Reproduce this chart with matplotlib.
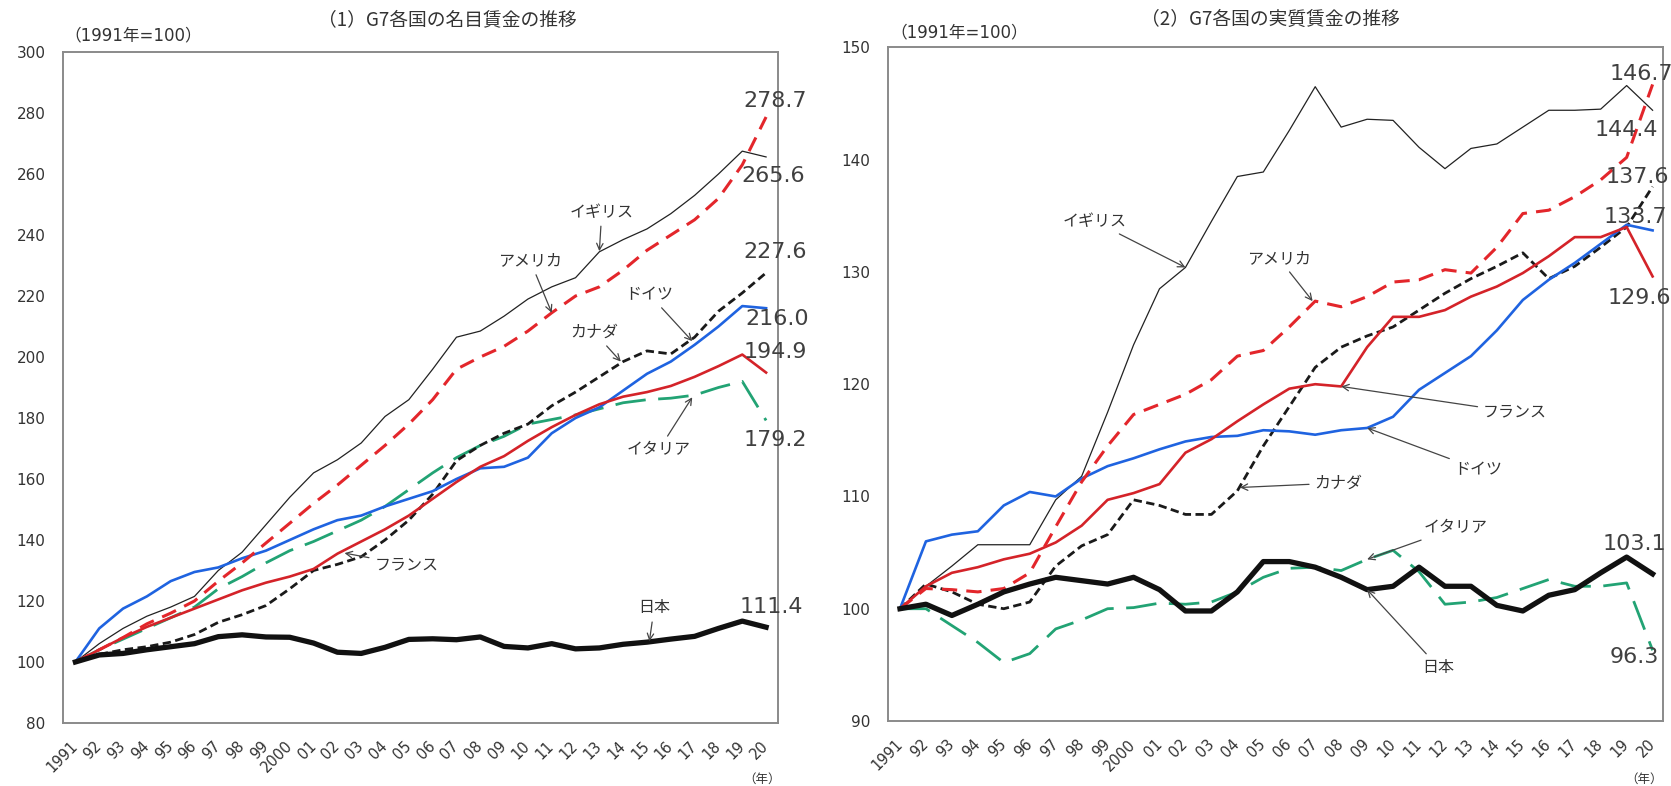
import numpy as np
import matplotlib
matplotlib.use('Agg')
import matplotlib.pyplot as plt

plt.rcParams['font.family'] = ['Noto Sans CJK JP', 'DejaVu Sans']
num_font = ['DejaVu Sans', 'Noto Sans CJK JP']

# data ################################################################
years = list(range(1991, 2021))
year_labels = ['1991'] + ['%02d' % (y % 100) for y in range(1992, 2000)] + ['2000'] + \
              ['%02d' % (y % 100) for y in range(2001, 2021)]

# (1) nominal wages, 1991 = 100
uk_nom = [100, 106, 111, 115, 118, 121.5, 130, 136, 145, 154, 162, 166.3, 171.8, 180.5, 186,
          196, 206.5, 208.5, 213.4, 219, 223, 226, 234.5, 238.5, 242, 247, 253, 260, 267.5, 265.6]
us_nom = [100, 104, 108, 112.5, 116, 120, 126.5, 132.5, 139, 145.5, 152, 158, 164.5, 171, 178,
          186, 196, 200, 203.5, 208.5, 214.5, 220, 223, 228.5, 235, 240, 245, 252, 263, 278.7]
ca_nom = [100, 102.5, 104, 105, 106.5, 109, 113, 115.5, 118.5, 124, 130, 132, 134.5, 140, 146.5,
          155, 166, 171, 175, 178, 184, 188.5, 193.5, 198.5, 202, 201, 206.5, 215, 221, 227.6]
de_nom = [100, 111, 117.5, 121.5, 126.5, 129.5, 131, 134, 136.5, 140, 143.5, 146.5, 148, 151, 153.5,
          156, 160, 163.5, 164, 167, 175, 180, 183.5, 189, 194.5, 198.5, 204, 210, 216.7, 216.0]
fr_nom = [100, 104, 108, 111.5, 114.5, 117.5, 120.5, 123.5, 126, 128, 130.5, 135.5, 139.5, 143.5, 148,
          153.5, 159, 164, 167.5, 172.5, 177, 181, 184.5, 187, 188.5, 190.5, 193.5, 197, 200.8, 194.9]
it_nom = [100, 104, 107.5, 111, 114.5, 118, 124, 128, 132.5, 136.5, 139.5, 143, 146.5, 151, 156.5,
          162, 167, 171, 174, 178, 179.5, 181, 183, 185, 186, 186.5, 187.5, 190, 192, 179.2]
jp_nom = [100, 102.3, 102.8, 104, 105, 106, 108.3, 108.9, 108.2, 108.1, 106.2, 103.2, 102.8, 104.8, 107.4,
          107.6, 107.3, 108.2, 105.1, 104.6, 106, 104.3, 104.6, 105.8, 106.5, 107.5, 108.4, 111.0, 113.4, 111.4]

# (2) real wages, 1991 = 100
uk_real = [100, 102, 103.8, 105.7, 105.7, 105.7, 109.7, 111.8, 117.5, 123.5, 128.5, 130.4, 134.5, 138.5, 138.9,
           142.6, 146.5, 142.9, 143.6, 143.5, 141.1, 139.2, 141, 141.4, 142.9, 144.4, 144.4, 144.5, 146.6, 144.4]
us_real = [100, 101.8, 101.7, 101.5, 101.8, 103.2, 107.3, 111.3, 114.5, 117.3, 118.2, 119.1, 120.4, 122.5, 123.0,
           125.1, 127.4, 126.9, 127.8, 129.1, 129.3, 130.2, 129.9, 132.2, 135.2, 135.5, 136.7, 138.2, 140.2, 146.7]
ca_real = [100, 102.2, 101.5, 100.4, 100.0, 100.6, 103.8, 105.6, 106.6, 109.7, 109.2, 108.4, 108.4, 110.5, 114.5,
           118, 121.5, 123.3, 124.3, 125.1, 126.6, 128.1, 129.4, 130.5, 131.7, 129.4, 130.5, 132.2, 134.0, 137.6]
de_real = [100, 106, 106.6, 106.9, 109.2, 110.4, 110.0, 111.6, 112.7, 113.4, 114.2, 114.9, 115.3, 115.4, 115.9,
           115.8, 115.5, 115.9, 116.1, 117.1, 119.5, 121.0, 122.5, 124.8, 127.5, 129.3, 130.8, 132.5, 134.2, 133.7]
fr_real = [100, 102.0, 103.2, 103.7, 104.4, 104.9, 105.9, 107.4, 109.7, 110.3, 111.1, 113.9, 115.1, 116.7, 118.2,
           119.6, 120.0, 119.8, 123.3, 126.0, 126.0, 126.6, 127.8, 128.7, 129.9, 131.4, 133.1, 133.1, 134.0, 129.6]
it_real = [100, 100.0, 98.5, 97.0, 95.2, 96.0, 98.2, 99.0, 100.0, 100.1, 100.5, 100.4, 100.6, 101.5, 102.8,
           103.6, 103.7, 103.4, 104.4, 105.2, 103.3, 100.4, 100.6, 101.0, 101.8, 102.6, 102.0, 102.0, 102.3, 96.3]
jp_real = [100, 100.4, 99.4, 100.4, 101.5, 102.2, 102.8, 102.5, 102.2, 102.8, 101.7, 99.8, 99.8, 101.5, 104.2,
           104.2, 103.7, 102.8, 101.7, 102.0, 103.7, 102.0, 102.0, 100.3, 99.8, 101.2, 101.7, 103.2, 104.6, 103.1]

# line styles per country
styles = {
    'uk': dict(color='#222222', lw=0.9),
    'us': dict(color='#e3262b', lw=2.2, dashes=(5, 3)),
    'ca': dict(color='#1a1a1a', lw=2.0, dashes=(3, 1.6)),
    'de': dict(color='#1f63e0', lw=1.9),
    'fr': dict(color='#d42329', lw=1.9),
    'it': dict(color='#22a374', lw=2.0, dashes=(11, 4.5)),
    'jp': dict(color='#111111', lw=3.8),
}

# figure ##############################################################
fig = plt.figure(figsize=(16.71, 7.86), dpi=100)
ax1 = fig.add_axes([0.038, 0.0802, 0.4273, 0.8536])
ax2 = fig.add_axes([0.5316, 0.0827, 0.4636, 0.857])

nominal = {'uk': uk_nom, 'us': us_nom, 'ca': ca_nom, 'de': de_nom,
           'fr': fr_nom, 'it': it_nom, 'jp': jp_nom}
real = {'uk': uk_real, 'us': us_real, 'ca': ca_real, 'de': de_real,
        'fr': fr_real, 'it': it_real, 'jp': jp_real}

for ax, data in [(ax1, nominal), (ax2, real)]:
    for key in ['uk', 'it', 'ca', 'de', 'fr', 'us', 'jp']:
        ax.plot(years, data[key], solid_joinstyle='round', **styles[key])

# axes cosmetics
for ax in (ax1, ax2):
    for sp in ax.spines.values():
        sp.set_color('#8a8a8a')
        sp.set_linewidth(1.4)
    ax.set_xticks(years)
    ax.set_xticklabels(year_labels, rotation=45, ha='right', va='center',
                       rotation_mode='anchor', fontsize=10.5, color='#333333',
                       family=num_font)
    ax.tick_params(axis='both', length=0, colors='#333333')
    ax.tick_params(axis='x', pad=15)
    ax.tick_params(axis='y', pad=13, labelsize=11)

ax1.set_xlim(1990.5, 2020.48)
ax1.set_ylim(80, 300)
ax1.set_yticks(np.arange(80, 301, 20))
ax2.set_xlim(1990.55, 2020.4)
ax2.set_ylim(90, 150)
ax2.set_yticks(np.arange(90, 151, 10))
for ax in (ax1, ax2):
    for lab in ax.get_yticklabels():
        lab.set_family(num_font)

# end value labels ####################################################
val_kw = dict(fontsize=16, color='#404040', ha='center', va='center', clip_on=False,
              family=num_font)
left_val_pos = {'us': (2020.36, 283.9), 'uk': (2020.3, 259.4), 'ca': (2020.4, 234.3),
                'de': (2020.45, 212.3), 'fr': (2020.4, 201.5), 'it': (2020.4, 172.9),
                'jp': (2020.2, 118.1)}
right_val_pos = {'us': (2019.56, 147.64), 'uk': (2019.0, 142.6), 'ca': (2019.4, 138.45),
                 'de': (2019.35, 134.9), 'fr': (2019.5, 127.65), 'jp': (2019.3, 105.75),
                 'it': (2019.3, 95.68)}
for ax, data, pos in [(ax1, nominal, left_val_pos), (ax2, real, right_val_pos)]:
    for key, (x, y) in pos.items():
        ax.text(x, y, '%.1f' % data[key][-1], **val_kw)

# country labels with arrows ##########################################
names = {'uk': 'イギリス', 'us': 'アメリカ', 'ca': 'カナダ', 'de': 'ドイツ',
         'fr': 'フランス', 'it': 'イタリア', 'jp': '日本'}
arrow_kw = dict(arrowstyle='->', color='#444444', lw=0.9, shrinkA=2, shrinkB=0)
# (text x, text y, arrow tip x, arrow tip y)
left_tags = {'uk': (2013.1, 247.5, 2013.0, 234.7), 'us': (2010.1, 231.5, 2011.0, 214.5),
             'de': (2015.1, 220.5, 2016.9, 205.2), 'ca': (2012.8, 208.0, 2013.9, 198.5),
             'it': (2015.5, 169.6, 2016.9, 186.8), 'fr': (2004.9, 131.9, 2002.3, 135.7),
             'jp': (2015.3, 117.7, 2015.1, 106.8)}
right_tags = {'uk': (1998.5, 134.5, 2002.0, 130.4), 'us': (2005.6, 131.2, 2006.9, 127.4),
              'fr': (2014.7, 117.5, 2008.0, 119.8), 'de': (2013.3, 112.4, 2009.0, 116.1),
              'ca': (2007.9, 111.2, 2004.1, 110.8), 'it': (2012.4, 107.2, 2009.0, 104.4),
              'jp': (2011.75, 94.8, 2009.0, 101.7)}
for ax, tags in [(ax1, left_tags), (ax2, right_tags)]:
    for key, (tx, ty, px, py) in tags.items():
        ax.annotate(names[key], xy=(px, py), xytext=(tx, ty), fontsize=11.5,
                    color='#333333', ha='center', va='center', arrowprops=arrow_kw)

# titles and notes ####################################################
fig.text(0.2675, 0.975, '（1）G7各国の名目賃金の推移', fontsize=13.5, ha='center', va='center',
         color='#333333')
fig.text(0.760, 0.975, '（2）G7各国の実質賃金の推移', fontsize=13.5, ha='center', va='center',
         color='#333333')
fig.text(64 / 1671, 1 - 35 / 786, '（1991年=100）', fontsize=12, ha='left', va='center',
         color='#333333', family=num_font)
fig.text(890 / 1671, 1 - 32 / 786, '（1991年=100）', fontsize=12, ha='left', va='center',
         color='#333333', family=num_font)
fig.text(762 / 1671, 1 - 779 / 786, '（年）', fontsize=9, ha='center', va='center', color='#333333')
fig.text(1644 / 1671, 1 - 779 / 786, '（年）', fontsize=9, ha='center', va='center', color='#333333')

fig.savefig('out.png', dpi=100, facecolor='white')
